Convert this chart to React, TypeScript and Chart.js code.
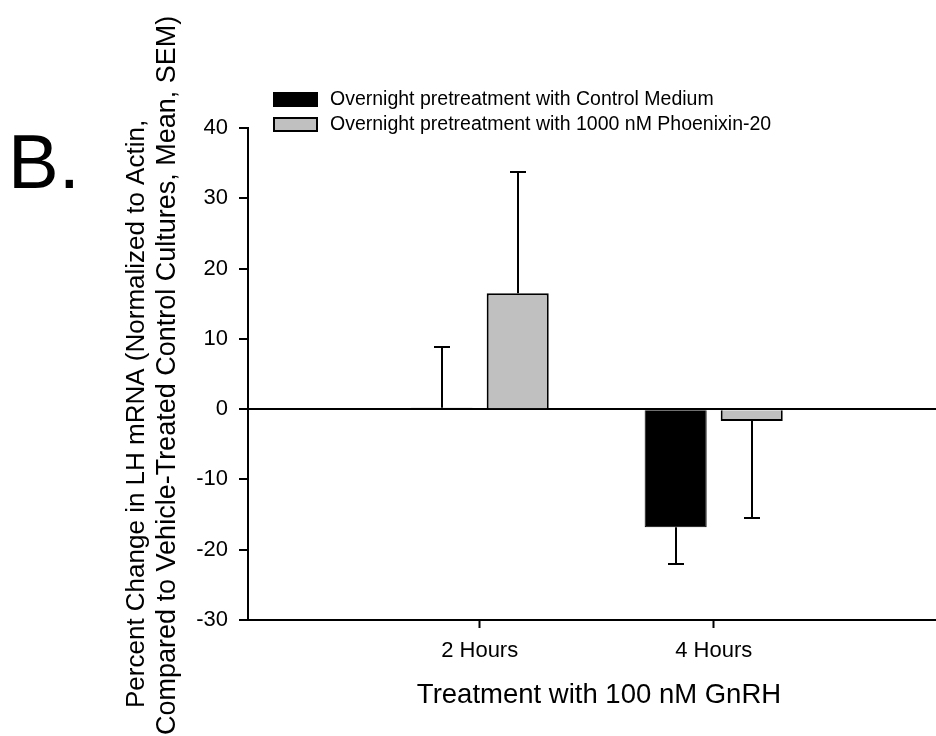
import React, { useEffect, useRef } from 'react';
import { Chart, registerables } from 'chart.js';

Chart.register(...registerables);

// ---- data ----
const categories = ['2 Hours', '4 Hours'];
const categoryPositions = [1, 2];
const seriesLabels = [
  'Overnight pretreatment with Control Medium',
  'Overnight pretreatment with 1000 nM Phoenixin-20',
];
const controlMeans = [0.2, -16.8];
const controlSem = [8.6, 5.3];
const phoenixinMeans = [16.5, -1.7];
const phoenixinSem = [17.3, 13.8];
const yMin = -30;
const yMax = 40;
const yStep = 10;
const xMin = 0.01;
const xMax = 2.95;
const panelLabel = 'B.';
const yTitleLines = [
  'Percent Change in LH mRNA (Normalized to Actin,',
  'Compared to Vehicle-Treated Control Cultures, Mean, SEM)',
];
const xTitle = 'Treatment with 100 nM GnRH';

const FAMILY = "'Liberation Sans', Arial, sans-serif";

const errorBarPlugin = {
  id: 'errorBars',
  afterDatasetsDraw(chart: any) {
    const ctx = chart.ctx;
    const yScale = chart.scales.y;
    chart.data.datasets.forEach((ds: any, i: number) => {
      const meta = chart.getDatasetMeta(i);
      meta.data.forEach((bar: any, j: number) => {
        const v = ds.data[j].y;
        const e = ds.errors[j];
        const x = Math.round(bar.x);
        const start = yScale.getPixelForValue(v);
        const end = Math.round(yScale.getPixelForValue(v + (v >= 0 ? e : -e)));
        ctx.save();
        ctx.strokeStyle = '#000';
        ctx.lineWidth = 2;
        ctx.beginPath();
        ctx.moveTo(x, start);
        ctx.lineTo(x, end);
        ctx.moveTo(x - 8, end);
        ctx.lineTo(x + 8, end);
        ctx.stroke();
        ctx.restore();
      });
    });
  },
};

const decorPlugin = {
  id: 'decor',
  afterDraw(chart: any) {
    const ctx = chart.ctx;
    ctx.save();
    ctx.fillStyle = '#000';
    // panel label
    ctx.font = `76px ${FAMILY}`;
    ctx.textAlign = 'left';
    ctx.textBaseline = 'alphabetic';
    ctx.fillText(panelLabel, 8, 188);

    // y title (two lines, rotated)
    const yTitleSpecs = [
      { x: 144, y: 708, size: 26 },
      { x: 175, y: 735, size: 27 },
    ];
    yTitleLines.forEach((line, i) => {
      const s = yTitleSpecs[i];
      ctx.save();
      ctx.font = `${s.size}px ${FAMILY}`;
      ctx.translate(s.x, s.y);
      ctx.rotate(-Math.PI / 2);
      ctx.textAlign = 'left';
      ctx.textBaseline = 'alphabetic';
      ctx.fillText(line, 0, 0);
      ctx.restore();
    });

    // x title
    ctx.font = `27.5px ${FAMILY}`;
    ctx.textAlign = 'center';
    ctx.textBaseline = 'middle';
    ctx.fillText(xTitle, 599, 695);

    // legend
    ctx.font = `19.5px ${FAMILY}`;
    chart.data.datasets.forEach((ds: any, i: number) => {
      const bx = 273;
      const by = 92 + i * 25;
      ctx.fillStyle = ds.backgroundColor;
      ctx.fillRect(bx, by, 45, 15);
      ctx.strokeStyle = '#000';
      ctx.lineWidth = 2;
      ctx.strokeRect(bx + 1, by + 1, 43, 13);
      ctx.fillStyle = '#000';
      ctx.textAlign = 'left';
      ctx.textBaseline = 'middle';
      ctx.fillText(ds.label, 330, by + 8);
    });
    ctx.restore();
  },
};

export default function App() {
  const canvasRef = useRef<HTMLCanvasElement | null>(null);

  useEffect(() => {
    const canvas = canvasRef.current;
    if (!canvas) return;
    const chart = new Chart(canvas, {
      type: 'bar',
      data: {
        datasets: [
          {
            label: seriesLabels[0],
            data: categoryPositions.map((x, i) => ({ x, y: controlMeans[i] })),
            errors: controlSem,
            backgroundColor: '#000000',
            borderColor: '#000000',
            borderWidth: 1,
          } as any,
          {
            label: seriesLabels[1],
            data: categoryPositions.map((x, i) => ({ x, y: phoenixinMeans[i] })),
            errors: phoenixinSem,
            backgroundColor: '#c0c0c0',
            borderColor: '#000000',
            borderWidth: 2,
          } as any,
        ],
      },
      options: {
        responsive: false,
        animation: false,
        devicePixelRatio: 1,
        layout: { padding: { top: 128, left: 0, right: 0, bottom: 0 } },
        datasets: { bar: { categoryPercentage: 0.65, barPercentage: 0.816 } } as any,
        plugins: { legend: { display: false }, tooltip: { enabled: false } },
        scales: {
          x: {
            type: 'linear',
            min: xMin,
            max: xMax,
            offset: false,
            afterBuildTicks: (s: any) => {
              s.ticks = categoryPositions.map((v) => ({ value: v }));
            },
            afterFit: (s: any) => {
              s.height = 116;
            },
            ticks: {
              callback: (v: any) => {
                const k = categoryPositions.indexOf(Number(v));
                return k >= 0 ? categories[k] : '';
              },
              font: { family: FAMILY, size: 22 },
              color: '#000',
              padding: 10,
              maxRotation: 0,
              autoSkip: false,
            },
            grid: {
              offset: false,
              drawOnChartArea: false,
              drawTicks: true,
              tickLength: 8,
              tickWidth: 2,
              tickColor: '#000',
              color: '#000',
            },
            border: { display: true, color: '#000', width: 2 },
            title: { display: false },
          } as any,
          y: {
            min: yMin,
            max: yMax,
            afterFit: (s: any) => {
              s.width = 248;
            },
            ticks: {
              stepSize: yStep,
              font: { family: FAMILY, size: 22 },
              color: '#000',
              padding: 11,
            },
            grid: {
              color: (c: any) => (c.tick && c.tick.value === 0 ? '#000' : 'rgba(0,0,0,0)'),
              lineWidth: (c: any) => (c.tick && c.tick.value === 0 ? 2 : 0),
              drawTicks: true,
              tickLength: 9,
              tickWidth: 2,
              tickColor: '#000',
            },
            border: { display: true, color: '#000', width: 2 },
          } as any,
        },
      },
      plugins: [errorBarPlugin, decorPlugin],
    });
    return () => chart.destroy();
  }, []);

  return (
    <div style={{ position: 'absolute', left: 0, top: 0, width: 936, height: 736, background: '#fff' }}>
      <canvas ref={canvasRef} width={936} height={736} style={{ display: 'block' }} />
    </div>
  );
}
